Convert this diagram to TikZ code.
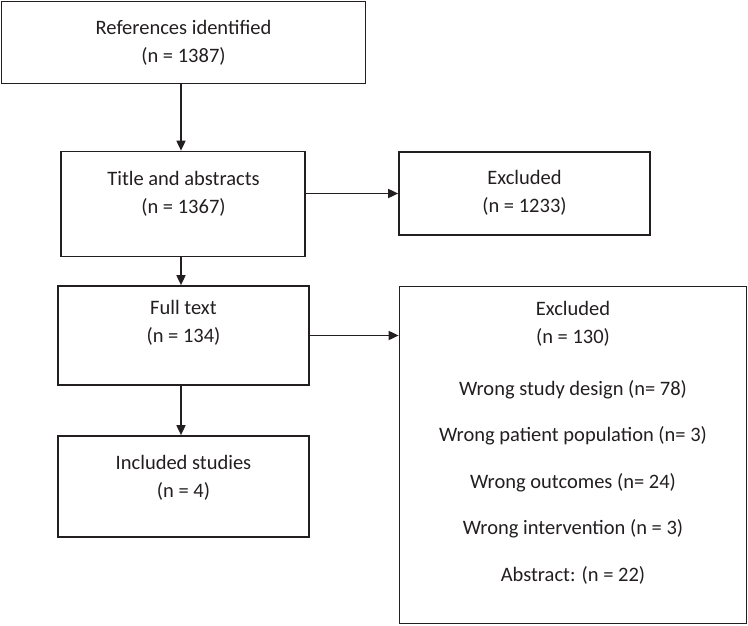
\documentclass[tikz,border=0pt]{standalone}
\usepackage{fontspec}
\setmainfont{Carlito}
\usetikzlibrary{arrows.meta}
\definecolor{ink}{HTML}{231F20}
\begin{document}
\begin{tikzpicture}[x=1pt,y=-1pt,
  box/.style={draw=ink,line width=1.7pt,inner sep=0pt},
  lbl/.style={text=ink,font=\fontsize{20.5}{28}\selectfont,align=center,inner sep=0pt},
  arr/.style={draw=ink,line width=1.7pt,-{Triangle[length=10pt,width=9pt]}}]
\useasboundingbox (0,0) rectangle (748,625);
\node[box,minimum width=364pt,minimum height=82pt] (b1) at (183.5,42.5) {};
\node[box,minimum width=244pt,minimum height=105pt] (b2) at (183,204) {};
\node[box,minimum width=251pt,minimum height=83pt] (b3) at (524.5,193.5) {};
\node[box,minimum width=251pt,minimum height=99pt] (b4) at (183.5,335.5) {};
\node[box,minimum width=347pt,minimum height=337pt] (b5) at (573,455) {};
\node[box,minimum width=251pt,minimum height=101pt] (b6) at (183.5,486.5) {};
\node[lbl] (t1) at (183.5,42.5) {References identified\\(n = 1387)};
\node[lbl] (t2) at (183.5,193.5) {Title and abstracts\\(n = 1367)};
\node[lbl] (t3) at (524.5,193) {Excluded\\(n = 1233)};
\node[lbl] (t4) at (183.5,323) {Full text\\(n = 134)};
\node[lbl] (t6) at (183.5,477.5) {Included studies\\(n = 4)};
\node[lbl] (t5a) at (573,323.5) {Excluded\\(n = 130)};
\node[lbl] (t5b) at (573,389.5) {Wrong study design (n= 78)};
\node[lbl] (t5c) at (573,435.5) {Wrong patient population (n= 3)};
\node[lbl] (t5d) at (573,482.5) {Wrong outcomes (n= 24)};
\node[lbl] (t5e) at (573,528.5) {Wrong intervention (n = 3)};
\node[lbl] (t5f) at (573,575.5) {Abstract: (n = 22)};
\draw[arr] ([xshift=-2.5pt]b1.south) -- ([xshift=-2.5pt]b1.south |- b2.north);
\draw[arr] ([xshift=-2pt]b2.south) -- ([xshift=-2pt]b2.south |- b4.north);
\draw[arr] ([xshift=-2.5pt]b4.south) -- ([xshift=-2.5pt]b4.south |- b6.north);
\draw[arr] (b2.east |- b3.west) -- (b3.west);
\draw[arr] (b4.east) -- (b4.east -| b5.west);
\end{tikzpicture}
\end{document}
